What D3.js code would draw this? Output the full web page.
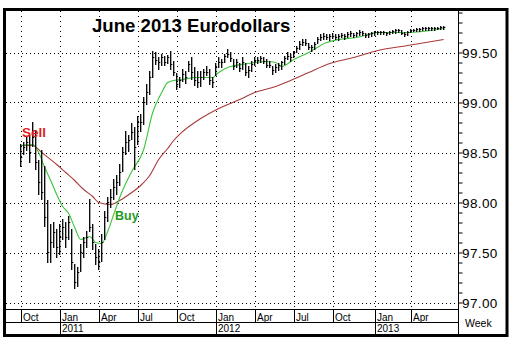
<!DOCTYPE html>
<html><head><meta charset="utf-8">
<script src="https://cdn.jsdelivr.net/npm/d3@7"></script>
<style>body{margin:0;background:#fff}svg{display:block}</style>
</head><body>
<svg id="c" width="511" height="344"></svg>
<script>
// ---- data ----
const firstWeek = "2010-10-04";
const high = [
98.58,98.60,98.65,98.67,98.80,98.72,98.42,98.52,98.36,98.02,
97.78,97.80,97.73,97.78,97.83,97.80,97.86,97.73,97.38,97.35,
97.58,97.65,97.71,98.03,97.78,97.58,97.53,97.68,97.91,98.05,
98.13,98.23,98.27,98.38,98.55,98.71,98.67,98.79,98.75,98.86,
98.88,99.05,99.18,99.31,99.51,99.50,99.45,99.48,99.46,99.47,
99.51,99.41,99.29,99.25,99.33,99.31,99.41,99.45,99.35,99.31,
99.31,99.33,99.36,99.33,99.25,99.39,99.45,99.43,99.48,99.53,
99.50,99.43,99.43,99.39,99.45,99.39,99.36,99.41,99.45,99.45,
99.46,99.45,99.43,99.41,99.36,99.38,99.39,99.41,99.46,99.50,
99.48,99.51,99.56,99.61,99.63,99.63,99.59,99.57,99.60,99.65,
99.68,99.69,99.68,99.68,99.69,99.68,99.68,99.69,99.68,99.70,
99.71,99.69,99.70,99.72,99.71,99.69,99.69,99.70,99.71,99.71,
99.71,99.71,99.70,99.71,99.72,99.73,99.73,99.72,99.70,99.71,
99.73,99.73,99.74,99.74,99.75,99.75,99.75,99.75,99.75,99.75,
99.76,99.76];
const low = [
98.36,98.48,98.52,98.40,98.56,98.33,98.08,98.03,97.76,97.40,
97.40,97.55,97.45,97.48,97.63,97.55,97.63,97.33,97.14,97.16,
97.31,97.45,97.55,97.71,97.53,97.38,97.33,97.41,97.63,97.81,
97.95,98.03,98.08,98.17,98.31,98.48,98.51,98.63,98.33,98.58,
98.71,98.78,98.98,99.08,99.25,99.38,99.33,99.37,99.37,99.39,
99.33,99.27,99.13,99.15,99.21,99.19,99.31,99.23,99.17,99.15,
99.16,99.23,99.27,99.18,99.15,99.27,99.35,99.35,99.40,99.45,
99.41,99.33,99.35,99.31,99.33,99.27,99.25,99.31,99.37,99.39,
99.40,99.39,99.35,99.35,99.28,99.30,99.32,99.33,99.38,99.43,
99.41,99.45,99.50,99.53,99.57,99.57,99.53,99.51,99.53,99.59,
99.62,99.63,99.63,99.62,99.64,99.63,99.62,99.65,99.63,99.65,
99.66,99.65,99.66,99.67,99.67,99.65,99.65,99.66,99.67,99.68,
99.68,99.68,99.67,99.68,99.69,99.69,99.70,99.68,99.66,99.67,
99.70,99.71,99.71,99.71,99.72,99.72,99.72,99.72,99.72,99.73,
99.73,99.73];
const close = [
98.45,98.55,98.60,98.50,98.65,98.40,98.20,98.10,97.85,97.50,
97.60,97.70,97.55,97.65,97.75,97.65,97.80,97.40,97.20,97.30,
97.50,97.60,97.65,97.75,97.60,97.45,97.40,97.60,97.85,98.00,
98.05,98.15,98.20,98.30,98.50,98.60,98.62,98.70,98.55,98.80,
98.80,99.00,99.10,99.25,99.45,99.42,99.40,99.45,99.40,99.45,
99.38,99.30,99.18,99.22,99.28,99.25,99.38,99.30,99.22,99.20,
99.25,99.30,99.30,99.22,99.20,99.35,99.40,99.40,99.46,99.48,
99.44,99.36,99.40,99.34,99.40,99.30,99.32,99.38,99.42,99.42,
99.44,99.41,99.37,99.37,99.32,99.35,99.37,99.40,99.44,99.46,
99.45,99.50,99.54,99.58,99.60,99.59,99.55,99.55,99.58,99.63,
99.65,99.66,99.65,99.66,99.66,99.65,99.66,99.67,99.66,99.68,
99.69,99.67,99.69,99.70,99.69,99.67,99.68,99.69,99.70,99.70,
99.70,99.70,99.69,99.70,99.71,99.72,99.72,99.69,99.68,99.70,
99.72,99.72,99.73,99.73,99.74,99.74,99.74,99.74,99.74,99.74,
99.75,99.75];
// moving averages read at these week indexes
const fastIdx = [0,4,6,8,10,12,14,16,18,20,23,25,27,29,31,33,35,37,41,44,47,49,51,54,58,61,64,66,69,76,82,85,87,91,96,102,106,112,119,129,141];
const fastMA  = [98.57,98.58,98.50,98.35,98.22,98.08,97.96,97.89,97.75,97.63,97.66,97.60,97.59,97.71,97.88,98.05,98.19,98.31,98.53,98.90,99.10,99.20,99.22,99.23,99.25,99.25,99.25,99.30,99.35,99.39,99.41,99.40,99.36,99.43,99.50,99.60,99.63,99.65,99.70,99.70,99.74];
const slowIdx = [0,4,7,12,15,18,21,24,26,30,33,37,40,43,46,49,51,54,60,66,73,78,85,90,96,103,111,119,129,141];
const slowMA  = [98.57,98.57,98.50,98.38,98.30,98.22,98.13,98.06,98.00,97.98,98.02,98.10,98.17,98.27,98.43,98.54,98.62,98.71,98.84,98.94,99.03,99.10,99.16,99.22,99.30,99.39,99.45,99.52,99.57,99.63];
const priceTicks = [97.00,97.50,98.00,98.50,99.00,99.50];
const monthLabels = ["Oct","Jan","Apr","Jul","Oct","Jan","Apr","Jul","Oct","Jan","Apr"];
const monthDates = ["2010-10-04","2011-01-03","2011-04-04","2011-07-04","2011-10-03","2012-01-02","2012-04-02","2012-07-02","2012-10-01","2013-01-07","2013-04-01"];
const yearLabels = ["2011","2012","2013"];
const yearDates = ["2011-01-03","2012-01-02","2013-01-07"];
const title = "June 2013 Eurodollars";

// ---- drawing ----
const parse = d3.timeParse("%Y-%m-%d");
const start = parse(firstWeek);
const weekDate = i => d3.timeDay.offset(start, 7 * i);
const svg = d3.select("#c");
const L = 6, R = 458.5, T = 11, B = 309.5;
const FONT = "Liberation Sans, Arial, sans-serif";

const x = d3.scaleTime().domain([parse("2011-01-03"), parse("2013-01-07")]).range([59.7, 374.7]);
const y = d3.scaleLinear().domain([97, 99.5]).range([302.5, 52.5]);

svg.append("rect").attr("width", 511).attr("height", 344).attr("fill", "#fff");

// grid
const g = svg.append("g");
g.selectAll("line.h").data(priceTicks).join("line")
  .attr("x1", L).attr("x2", R).attr("y1", d => Math.round(y(d)) + 0.5).attr("y2", d => Math.round(y(d)) + 0.5)
  .attr("stroke", "#000").attr("stroke-width", 1).attr("stroke-dasharray", "1,3");
g.selectAll("line.v").data(monthDates).join("line")
  .attr("x1", d => Math.round(x(parse(d))) + 0.5).attr("x2", d => Math.round(x(parse(d))) + 0.5)
  .attr("y1", T).attr("y2", B)
  .attr("stroke", "#000").attr("stroke-width", 1).attr("stroke-dasharray", "1,4");

// right axis with minor ticks
const axis = d3.axisRight(y).tickValues(d3.range(97, 99.95, 0.1)).tickSize(4).tickFormat("");
const ax = svg.append("g").attr("transform", `translate(${R},0)`).call(axis);
ax.select(".domain").remove();
ax.selectAll("line").attr("stroke", "#000");
svg.append("line").attr("x1", R).attr("x2", R).attr("y1", T - 2).attr("y2", 336).attr("stroke", "#000");
svg.selectAll("text.pl").data(priceTicks).join("text")
  .attr("x", 462).attr("y", d => y(d) + 5)
  .attr("font-family", FONT).attr("font-size", 13.5).attr("letter-spacing", 0.4)
  .attr("fill", "#000").text(d => d3.format(".2f")(d));

// moving averages
const line = d3.line().x(d => x(weekDate(d[0]))).y(d => y(d[1])).curve(d3.curveMonotoneX);
svg.append("path").attr("d", line(slowIdx.map((w, i) => [w, slowMA[i]])))
  .attr("fill", "none").attr("stroke", "#a83a3a").attr("stroke-width", 1.1);
svg.append("path").attr("d", line(fastIdx.map((w, i) => [w, fastMA[i]])))
  .attr("fill", "none").attr("stroke", "#3cc43c").attr("stroke-width", 1.1);

// bars
const bars = svg.append("g").attr("stroke", "#000");
high.forEach((h, i) => {
  const xi = x(weekDate(i));
  bars.append("line").attr("x1", xi).attr("x2", xi).attr("y1", y(h) - 0.5).attr("y2", y(low[i]) + 0.5).attr("stroke-width", 1.3);
  bars.append("line").attr("x1", xi).attr("x2", xi + 1.6).attr("y1", y(close[i])).attr("y2", y(close[i])).attr("stroke-width", 1);
});

// annotations
svg.append("text").attr("x", 22).attr("y", 137).attr("font-family", FONT)
  .attr("font-weight", "bold").attr("font-size", 13.5).attr("fill", "#dd1c1c").text("Sell");
svg.append("text").attr("x", 115).attr("y", 220).attr("font-family", FONT)
  .attr("font-weight", "bold").attr("font-size", 12.5).attr("fill", "#1f9a1f").text("Buy");

// title
svg.append("text").attr("x", 92).attr("y", 32).attr("font-family", FONT)
  .attr("font-weight", "bold").attr("font-size", 18.6).attr("fill", "#000").text(title);

// date bands
svg.append("line").attr("x1", L).attr("x2", R).attr("y1", B).attr("y2", B).attr("stroke", "#000");
svg.append("line").attr("x1", L).attr("x2", R).attr("y1", 322.5).attr("y2", 322.5).attr("stroke", "#000");
svg.selectAll("line.ms").data(monthDates).join("line")
  .attr("x1", d => Math.round(x(parse(d))) + 0.5).attr("x2", d => Math.round(x(parse(d))) + 0.5)
  .attr("y1", B).attr("y2", 322.5).attr("stroke", "#000");
svg.selectAll("text.ml").data(monthLabels).join("text")
  .attr("x", (d, i) => Math.round(x(parse(monthDates[i]))) + 2).attr("y", 320.5)
  .attr("font-family", FONT).attr("font-size", 10).attr("fill", "#000").text(d => d);
svg.selectAll("line.ys").data(yearDates).join("line")
  .attr("x1", d => Math.round(x(parse(d))) + 0.5).attr("x2", d => Math.round(x(parse(d))) + 0.5)
  .attr("y1", 322.5).attr("y2", 335).attr("stroke", "#000");
svg.selectAll("text.yl").data(yearLabels).join("text")
  .attr("x", (d, i) => Math.round(x(parse(yearDates[i]))) + 2).attr("y", 332)
  .attr("font-family", FONT).attr("font-size", 10).attr("fill", "#000").text(d => d);
svg.append("text").attr("x", 465).attr("y", 327).attr("font-family", FONT)
  .attr("font-size", 10.5).attr("fill", "#000").text("Week");

// frame
svg.append("rect").attr("x", 4.5).attr("y", 9.5).attr("width", 502.5).attr("height", 326)
  .attr("fill", "none").attr("stroke", "#000").attr("stroke-width", 3);
</script></body></html>
